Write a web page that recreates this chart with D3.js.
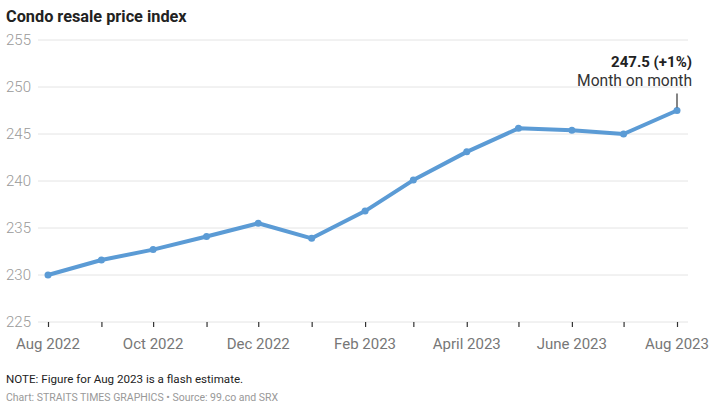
<!DOCTYPE html>
<html><head><meta charset="utf-8">
<script src="https://cdn.jsdelivr.net/npm/d3@7"></script>
<style>
body{margin:0;background:#fff;}
svg{display:block;font-family:Roboto, "Noto Sans", sans-serif;}
</style></head>
<body><svg id="c" width="720" height="416"></svg>
<script>
const months = ["2022-08","2022-09","2022-10","2022-11","2022-12","2023-01","2023-02","2023-03","2023-04","2023-05","2023-06","2023-07","2023-08"];
const values = [230.0,231.6,232.7,234.1,235.5,233.9,236.8,240.1,243.1,245.6,245.4,245.0,247.5];
const yTicks = [225,230,235,240,245,250,255];
const xLabelMonths = ["2022-08","2022-10","2022-12","2023-02","2023-04","2023-06","2023-08"];
const xLabels = ["Aug 2022","Oct 2022","Dec 2022","Feb 2023","April 2023","June 2023","Aug 2023"];
const title = "Condo resale price index";
const annoValue = "247.5 (+1%)";
const annoText = "Month on month";
const note = "NOTE: Figure for Aug 2023 is a flash estimate.";
const source = "Chart: STRAITS TIMES GRAPHICS \u2022 Source: 99.co and SRX";

const svg = d3.select("#c");
const parse = d3.timeParse("%Y-%m");
const dates = months.map(parse);
const x = d3.scaleTime().domain([dates[0], dates[dates.length-1]]).range([48,677]);
const y = d3.scaleLinear().domain([225,255]).range([322,40]);

svg.append("text").attr("x",6).attr("y",22).attr("font-size",16.3).attr("font-weight",700).attr("fill","#222").text(title);

// grid
svg.append("g").selectAll("line").data(yTicks).join("line")
  .attr("x1",38).attr("x2",688).attr("y1",d=>y(d)).attr("y2",d=>y(d))
  .attr("stroke","#e4e4e4").attr("stroke-width",1);
svg.append("g").selectAll("text").data(yTicks).join("text")
  .attr("x",6).attr("y",d=>y(d)).attr("dy","0.35em").attr("font-size",15).attr("font-weight",300).attr("fill","#999").text(d=>d);

// x axis
const xAxis = d3.axisBottom(x).tickValues(dates).tickSize(5).tickFormat("");
const gx = svg.append("g").attr("transform",`translate(0,${y(225)})`).call(xAxis);
gx.select(".domain").remove();
gx.selectAll(".tick line").attr("stroke","#333").attr("stroke-width",1.2);
svg.append("g").selectAll("text").data(xLabelMonths).join("text")
  .attr("x",(d)=>x(parse(d))).attr("y",349).attr("text-anchor","middle")
  .attr("font-size",15).attr("fill","#777").text((d,i)=>xLabels[i]);

// line
const data = dates.map((d,i)=>({d, v:values[i]}));
svg.append("path").datum(data)
  .attr("d", d3.line().x(p=>x(p.d)).y(p=>y(p.v)))
  .attr("fill","none").attr("stroke","#5b9bd5").attr("stroke-width",4).attr("stroke-linejoin","round");
svg.append("g").selectAll("circle").data(data).join("circle")
  .attr("cx",p=>x(p.d)).attr("cy",p=>y(p.v)).attr("r",3.5).attr("fill","#5b9bd5");

// annotation
const last = data[data.length-1];
svg.append("line").attr("x1",x(last.d)).attr("x2",x(last.d)).attr("y1",y(last.v)-3).attr("y2",y(last.v)-17)
  .attr("stroke","#333").attr("stroke-width",1.2);
svg.append("text").attr("x",692).attr("y",67).attr("text-anchor","end").attr("font-size",15).attr("font-weight",700).attr("fill","#222").text(annoValue);
svg.append("text").attr("x",692).attr("y",86).attr("text-anchor","end").attr("font-size",15.6).attr("fill","#333").text(annoText);

svg.append("text").attr("x",6).attr("y",383).attr("font-size",11.6).attr("fill","#222").text(note);
svg.append("text").attr("x",6).attr("y",401).attr("font-size",10.5).attr("fill","#999").text(source);
</script>
</body></html>
